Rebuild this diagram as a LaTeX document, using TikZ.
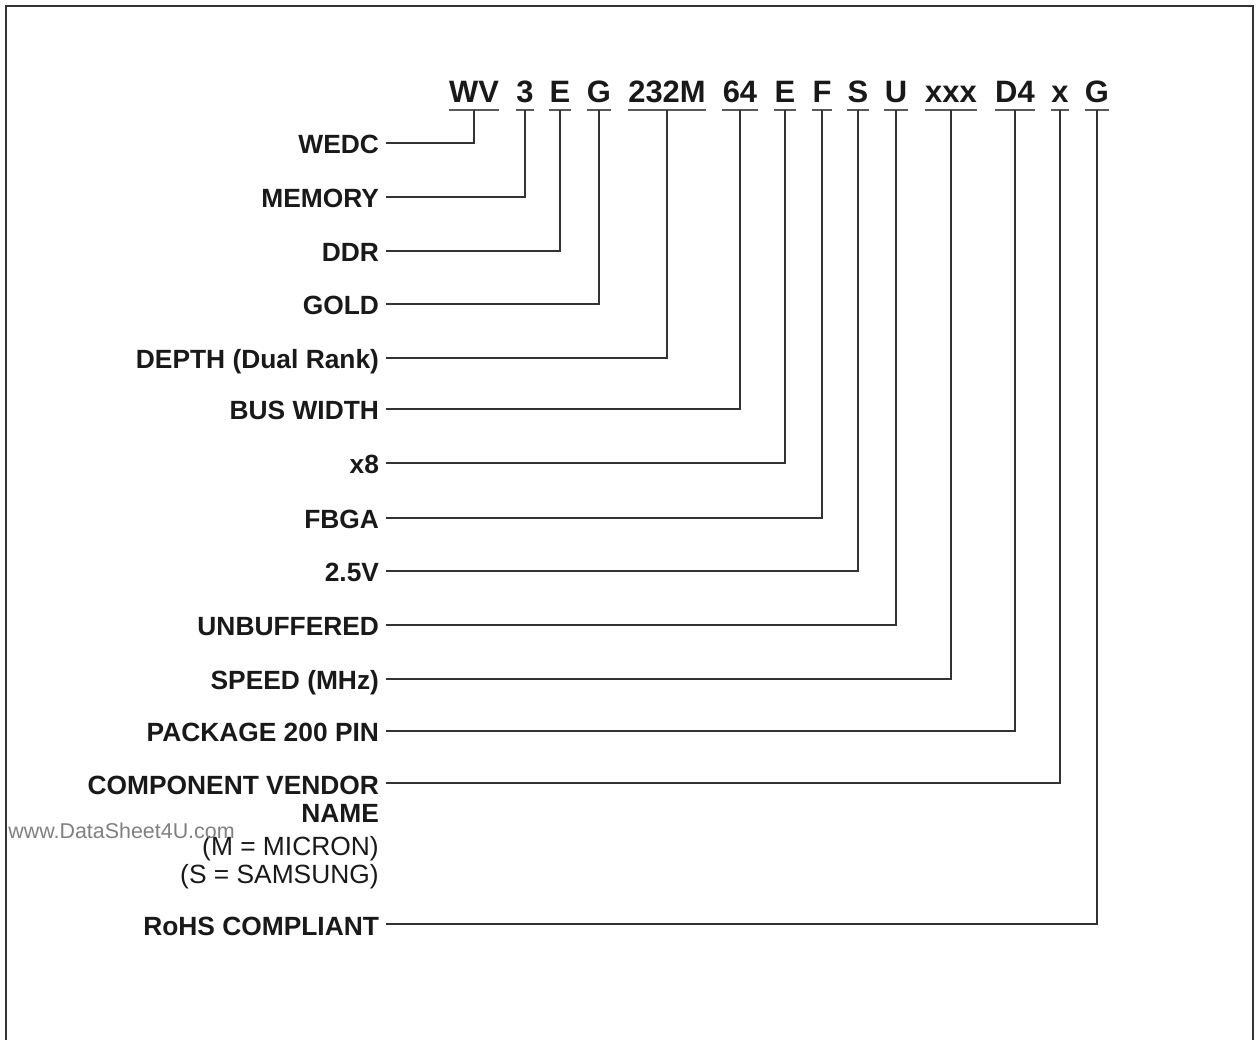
\documentclass[tikz,border=0pt]{standalone}
\usepackage{fontspec}
\setmainfont{Liberation Sans}
\begin{document}
\begin{tikzpicture}[x=0.02cm,y=-0.02cm,
  lab/.style={anchor=base east,inner sep=0pt,outer xsep=0.14cm,font=\fontsize{15}{18}\selectfont\bfseries,text=black!90},
  sub/.style={anchor=base east,inner sep=0pt,font=\fontsize{15}{18}\selectfont,text=black!90},
  code/.style={anchor=base,inner xsep=0pt,inner ysep=0.14cm,text depth=0pt,font=\fontsize{17.6}{20}\selectfont\bfseries,text=black!90},
  ul/.style={draw=black!65,line width=1.1pt},
  conn/.style={draw=black!80,line width=0.75pt},
  frame/.style={draw=black!80,line width=1.3pt}]
\useasboundingbox (0,0) rectangle (1259,1040);
\draw[frame] (6,1040) -- (6,6) -- (1253,6) -- (1253,1040);
% code letters
\foreach \n/\t/\x in {c1/WV/474, c2/3/525, c3/E/560, c4/G/599, c5/232M/667, c6/64/740, c7/E/785, c8/F/822, c9/S/858, c10/U/896, c11/xxx/951, c12/D4/1015, c13/x/1060, c14/G/1097}{
  \node[code] (\n) at (\x,103) {\t};
  \draw[ul] (\n.south west) -- (\n.south east);
}
% labels (baseline 11px below the connector)
\foreach \n/\t/\y in {l1/WEDC/154, l2/MEMORY/208, l3/DDR/262, l4/GOLD/315, l5/{DEPTH (Dual Rank)}/369, l6/{BUS WIDTH}/420, l7/x8/474, l8/FBGA/529, l9/2.5V/582, l10/UNBUFFERED/636, l11/{SPEED (MHz)}/690, l12/{PACKAGE 200 PIN}/742, l13/{COMPONENT VENDOR}/794, l14/{RoHS COMPLIANT}/935}{
  \node[lab] (\n) at (386,\y) {\t};
}
\foreach \i in {1,...,14}{
  \draw[conn] ([yshift=0.22cm]l\i.base east) -| (c\i.south);
}
\node[lab,outer xsep=0pt] (name) at (379,823) {NAME};
\node[sub] (micron) at (379,855) {(M = MICRON)};
\node[sub] (samsung) at (379,884) {(S = SAMSUNG)};
\node[anchor=base west,inner sep=0pt,font=\fontsize{12.2}{14}\selectfont,text=black!50] (wm) at (8,838) {www.DataSheet4U.com};
\end{tikzpicture}
\end{document}
